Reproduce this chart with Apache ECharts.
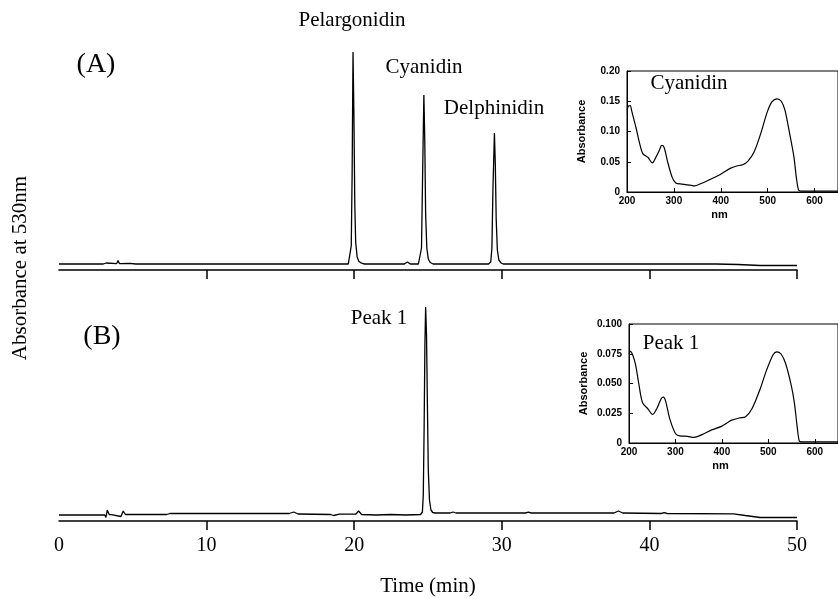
<!DOCTYPE html>
<html>
<head>
<meta charset="utf-8">
<title>Anthocyanidin HPLC</title>
<script src="https://cdn.jsdelivr.net/npm/echarts@6/dist/echarts.min.js"></script>
<style>
    html, body { margin: 0; padding: 0; background: #fff; }
    #chart { width: 838px; height: 599px; }
</style>
</head>
<body>
<div id="chart"></div>
<script>
// retention time (min), relative absorbance above baseline
var traceA = [
    [0, 0], [3.0, 0], [3.1, -1], [3.2, 1], [3.3, 0], [3.9, 0.3], [4.0, 3.5], [4.1, 0.3], [4.8, 0.6], [5.2, 0],
    [19.6, 0], [19.72, 2], [19.8, 18], [19.86, 90], [19.92, 212], [19.98, 150], [20.04, 60], [20.1, 22], [20.2, 7], [20.32, 2.5], [20.5, 0.8], [20.7, 0],
    [23.4, 0], [23.6, 2], [23.8, 0],
    [24.35, 0], [24.48, 2], [24.56, 16], [24.63, 85], [24.72, 169], [24.78, 125], [24.84, 50], [24.92, 16], [25.02, 5], [25.15, 1.5], [25.35, 0],
    [29.1, 0], [29.25, 2], [29.33, 16], [29.4, 75], [29.5, 131], [29.56, 100], [29.62, 45], [29.7, 14], [29.8, 4], [29.95, 1], [30.1, 0],
    [44.5, 0], [46, -0.5], [47.5, -1.5], [50, -1.5]
];
var traceB = [
    [0, 0], [3.1, 0], [3.18, -2.5], [3.27, 5], [3.4, 0.5], [3.55, 0.3], [4.2, -1.5], [4.35, 4], [4.5, 0.5],
    [7.3, 0.5], [7.5, 1.5], [15.6, 1.5], [15.9, 3], [16.2, 1], [18.4, 0.5], [18.6, -0.5], [19.0, 0.8],
    [20.1, 0.8], [20.3, 4], [20.5, 0.5], [21.5, 0], [22.5, 0.5], [23.5, 0], [24.5, 0.5],
    [24.62, 3], [24.68, 20], [24.74, 90], [24.79, 170], [24.84, 208], [24.9, 180], [24.96, 110], [25.02, 45], [25.1, 15], [25.2, 5], [25.32, 2.5],
    [25.5, 2], [26.5, 2], [26.7, 3], [26.9, 2], [31.6, 2], [31.8, 2.8], [32.0, 2], [37.6, 2], [37.9, 4], [38.2, 2],
    [40.8, 1.5], [41, 2.3], [41.2, 1.5], [45.7, 1.2], [46.5, -0.5], [47.5, -2.5], [50, -2.5]
];
var timeLabels = [0, 10, 20, 30, 40, 50];
var timeTicks = [10, 20, 30, 40, 50];

// UV-vis spectra (nm, absorbance)
var spectrumCyanidin = [
    [200, 0.136], [203, 0.142], [207, 0.143], [210, 0.134], [219, 0.107], [227, 0.080], [234, 0.063], [245, 0.057],
    [254, 0.048], [262, 0.058], [269, 0.069], [274, 0.077], [279, 0.074], [286, 0.052], [296, 0.025], [304, 0.015],
    [317, 0.013], [337, 0.011], [344, 0.010], [358, 0.014], [375, 0.020], [399, 0.029], [420, 0.039], [434, 0.043],
    [447, 0.045], [458, 0.051], [471, 0.066], [485, 0.096], [499, 0.132], [509, 0.149], [520, 0.154], [529, 0.150],
    [537, 0.135], [547, 0.096], [556, 0.058], [561, 0.025], [566, 0.003], [571, 0.0015], [650, 0.0015]
];
var spectrumPeak1 = [
    [200, 0.075], [203, 0.077], [208, 0.074], [214, 0.066], [221, 0.050], [229, 0.034], [240, 0.029], [251, 0.024],
    [260, 0.029], [269, 0.037], [274, 0.0385], [279, 0.035], [288, 0.020], [300, 0.008], [309, 0.006], [326, 0.0056],
    [340, 0.0047], [357, 0.007], [378, 0.011], [399, 0.014], [420, 0.019], [437, 0.021], [451, 0.022], [465, 0.029],
    [482, 0.045], [496, 0.061], [510, 0.074], [518, 0.0765], [527, 0.075], [537, 0.067], [549, 0.049], [556, 0.034],
    [562, 0.014], [567, 0.0014], [572, 0.001], [650, 0.001]
];
var nmTicks = [200, 300, 400, 500, 600];

var serif = 'Liberation Serif';
var sans = 'Liberation Sans';

function timeAxis(gridIndex, withLabels) {
    return {
        type: 'value',
        gridIndex: gridIndex,
        min: 0,
        max: 50,
        interval: 10,
        splitLine: { show: false },
        // keep the axis at the grid bottom, below the baseline
        axisLine: { onZero: false, lineStyle: { color: '#000', width: 1.5 } },
        axisTick: {
            customValues: timeTicks,
            length: 9,
            lineStyle: { color: '#000', width: 1.5 }
        },
        axisLabel: {
            show: withLabels,
            customValues: timeLabels,
            color: '#000',
            fontFamily: serif,
            fontSize: 20,
            margin: 15
        },
        name: withLabels ? 'Time (min)' : '',
        nameLocation: 'middle',
        nameGap: 55,
        nameTextStyle: { color: '#000', fontFamily: serif, fontSize: 21 }
    };
}

function nmAxis(gridIndex) {
    return {
        type: 'value',
        gridIndex: gridIndex,
        min: 200,
        max: 650,
        interval: 100,
        splitLine: { show: false },
        axisLine: { onZero: false, lineStyle: { color: '#000', width: 1 } },
        axisTick: { inside: true, length: 4, customValues: nmTicks, lineStyle: { color: '#000' } },
        axisLabel: {
            customValues: nmTicks,
            color: '#000',
            fontFamily: sans,
            fontWeight: 'bold',
            fontSize: 10,
            margin: 4
        },
        name: 'nm',
        nameLocation: 'middle',
        nameGap: 17,
        nameTextStyle: { color: '#000', fontFamily: sans, fontWeight: 'bold', fontSize: 11, padding: [0, 26, 0, 0] }
    };
}

function absAxis(gridIndex, max, step, digits) {
    return {
        type: 'value',
        gridIndex: gridIndex,
        min: 0,
        max: max,
        interval: step,
        splitLine: { show: false },
        axisLine: { onZero: false, lineStyle: { color: '#000', width: 1 } },
        axisTick: { inside: true, length: 4, lineStyle: { color: '#000' } },
        axisLabel: {
            color: '#000',
            fontFamily: sans,
            fontWeight: 'bold',
            fontSize: 10,
            margin: 7,
            formatter: function(v) {
                return v === 0 ? '0' : v.toFixed(digits);
            }
        },
        name: 'Absorbance',
        nameLocation: 'middle',
        nameGap: 40,
        nameRotate: 90,
        nameTextStyle: { color: '#000', fontFamily: sans, fontWeight: 'bold', fontSize: 11 }
    };
}

function lineSeries(x, y, data, width, smooth) {
    return {
        type: 'line',
        xAxisIndex: x,
        yAxisIndex: y,
        data: data,
        showSymbol: false,
        silent: true,
        smooth: smooth || false,
        lineStyle: { color: '#000', width: width }
    };
}

function label(text, x, y, size, rotate) {
    return {
        type: 'text',
        x: x,
        y: y,
        rotation: rotate || 0,
        style: {
            text: text,
            fill: '#000',
            fontFamily: serif,
            fontSize: size,
            align: 'center',
            verticalAlign: 'middle'
        }
    };
}

var myChart = echarts.init(document.getElementById('chart'));
var option = {
    backgroundColor: '#fff',
    animation: false,
    grid: [
        { left: 59, width: 738, top: 40, height: 230 },
        { left: 59, width: 738, top: 290, height: 231 },
        { left: 627, width: 218, top: 71, height: 121, show: true, borderColor: '#000', borderWidth: 1 },
        { left: 629, width: 218, top: 324, height: 119, show: true, borderColor: '#000', borderWidth: 1 }
    ],
    xAxis: [timeAxis(0, false), timeAxis(1, true), nmAxis(2), nmAxis(3)],
    yAxis: [
        { type: 'value', gridIndex: 0, min: -6, max: 224, show: false },
        { type: 'value', gridIndex: 1, min: -6, max: 225, show: false },
        absAxis(2, 0.2, 0.05, 2),
        absAxis(3, 0.1, 0.025, 3)
    ],
    series: [
        lineSeries(0, 0, traceA, 1.3),
        lineSeries(1, 1, traceB, 1.3),
        lineSeries(2, 2, spectrumCyanidin, 1.2, 0.3),
        lineSeries(3, 3, spectrumPeak1, 1.2, 0.3)
    ],
    graphic: [
        label('(A)', 96, 65, 28),
        label('(B)', 102, 337, 28),
        label('Pelargonidin', 352, 20, 21),
        label('Cyanidin', 424, 67, 21),
        label('Delphinidin', 494, 108, 21),
        label('Peak 1', 379, 318, 21),
        label('Cyanidin', 689, 83, 21),
        label('Peak 1', 671, 343, 21),
        label('Absorbance at 530nm', 20, 268, 21, Math.PI / 2)
    ]
};
myChart.setOption(option);
</script>
</body>
</html>
